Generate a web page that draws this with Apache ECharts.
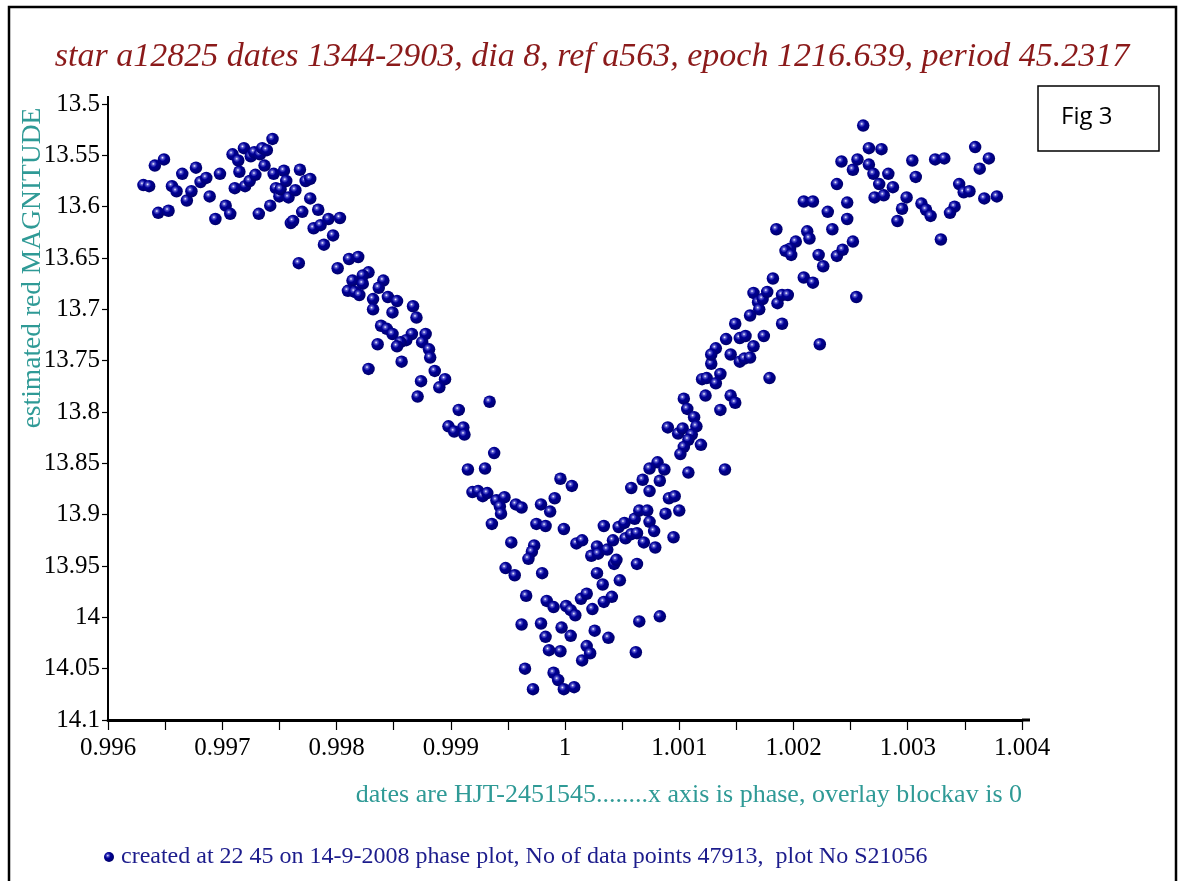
<!DOCTYPE html>
<html>
<head>
<meta charset="utf-8">
<script src="https://cdn.jsdelivr.net/npm/echarts@6/dist/echarts.min.js"></script>
<style>
  html, body { margin: 0; padding: 0; background: #fff; }
  #chart { width: 1184px; height: 881px; }
</style>
</head>
<body>
<div id="chart"></div>
<script>
// phase / estimated red magnitude, grouped by part of the light curve
var plateauLeft = [
  [0.99631,13.579],[0.99636,13.580],[0.99641,13.560],[0.99649,13.554],[0.99644,13.606],[0.99653,13.604],
  [0.99656,13.580],[0.99660,13.585],[0.99665,13.568],[0.99669,13.594],[0.99673,13.585],[0.99677,13.562],
  [0.99681,13.576],[0.99686,13.572],[0.99689,13.590],[0.99694,13.612],[0.99698,13.568],[0.99703,13.599],
  [0.99707,13.607],[0.99709,13.549],[0.99711,13.582],[0.99714,13.555],[0.99715,13.566],[0.99719,13.543],
  [0.99720,13.580],[0.99724,13.575],[0.99725,13.551],[0.99728,13.547],[0.99729,13.569],[0.99732,13.607],
  [0.99733,13.549],[0.99735,13.543],[0.99737,13.560],[0.99739,13.545],[0.99742,13.599],[0.99744,13.534],
  [0.99745,13.568],[0.99747,13.582],[0.99750,13.590],[0.99751,13.583],[0.99754,13.565],[0.99756,13.575],
  [0.99758,13.591],[0.99760,13.616],[0.99762,13.614],[0.99764,13.584],[0.99768,13.564],[0.99770,13.605],
  [0.99773,13.575],[0.99777,13.573],[0.99777,13.592],[0.99780,13.621],[0.99784,13.603],[0.99786,13.618],
  [0.99789,13.637],[0.99793,13.612],[0.99797,13.628],[0.99767,13.655],[0.99801,13.660],[0.99803,13.611]
];
var descent = [
  [0.99811,13.651],[0.99819,13.649],[0.99828,13.664],[0.99823,13.667],[0.99814,13.672],[0.99841,13.672],
  [0.99823,13.675],[0.99837,13.679],[0.99810,13.682],[0.99816,13.683],[0.99820,13.686],[0.99845,13.688],
  [0.99832,13.690],[0.99853,13.692],[0.99867,13.697],[0.99832,13.700],[0.99849,13.703],[0.99870,13.708],
  [0.99839,13.716],[0.99844,13.719],[0.99849,13.724],[0.99878,13.724],[0.99866,13.724],[0.99861,13.730],
  [0.99875,13.732],[0.99856,13.732],[0.99836,13.734],[0.99853,13.736],[0.99881,13.739],[0.99882,13.747],
  [0.99857,13.751],[0.99828,13.758],[0.99886,13.760],[0.99895,13.768],[0.99874,13.770],[0.99890,13.776],
  [0.99871,13.785],[0.99934,13.790],[0.99907,13.798],[0.99898,13.814],[0.99903,13.819],[0.99911,13.815],
  [0.99912,13.822],[0.99938,13.840],[0.99930,13.855],[0.99915,13.856]
];
var minimum = [
  [0.99996,13.865],[1.00006,13.872],[1.00058,13.874],[0.99919,13.878],[0.99924,13.877],[0.99928,13.882],
  [0.99932,13.879],[0.99940,13.886],[0.99947,13.883],[0.99943,13.892],[0.99944,13.899],[0.99957,13.890],
  [0.99962,13.893],[0.99979,13.890],[0.99991,13.884],[0.99987,13.897],[0.99936,13.909],[0.99975,13.909],
  [0.99983,13.911],[0.99999,13.914],[1.00034,13.911],[0.99953,13.927],[1.00010,13.928],[1.00015,13.925],
  [0.99973,13.930],[0.99971,13.936],[0.99968,13.943],[1.00028,13.931],[1.00023,13.940],[1.00029,13.938],
  [1.00037,13.934],[1.00042,13.925],[1.00047,13.912],[1.00052,13.908],[1.00053,13.923],[1.00058,13.919],
  [1.00063,13.918],[1.00061,13.904],[1.00065,13.896],[1.00043,13.948],[1.00045,13.944],[1.00063,13.948],
  [0.99948,13.952],[0.99956,13.959],[0.99980,13.957],[1.00028,13.957],[1.00033,13.968],[1.00048,13.964],
  [0.99966,13.979],[0.99984,13.984],[0.99990,13.990],[1.00001,13.989],[1.00005,13.993],[1.00009,13.998],
  [1.00014,13.982],[1.00019,13.977],[1.00024,13.992],[1.00034,13.985],[1.00041,13.980],[0.99962,14.007],
  [0.99979,14.006],[0.99997,14.010],[1.00005,14.018],[0.99983,14.019],[1.00026,14.013],[1.00038,14.020],
  [1.00065,14.004],[0.99986,14.032],[0.99996,14.033],[1.00019,14.028],[1.00022,14.035],[1.00015,14.042],
  [1.00062,14.034],[0.99965,14.050],[0.99990,14.054],[0.99994,14.061],[0.99972,14.070],[0.99999,14.070],
  [1.00008,14.068]
];
var ascent = [
  [1.00128,13.753],[1.00120,13.768],[1.00124,13.767],[1.00136,13.763],[1.00132,13.772],[1.00179,13.767],
  [1.00104,13.787],[1.00123,13.784],[1.00145,13.784],[1.00149,13.791],[1.00107,13.797],[1.00136,13.798],
  [1.00113,13.805],[1.00090,13.815],[1.00115,13.814],[1.00099,13.821],[1.00103,13.816],[1.00111,13.822],
  [1.00108,13.827],[1.00104,13.834],[1.00119,13.832],[1.00101,13.841],[1.00081,13.849],[1.00074,13.855],
  [1.00087,13.856],[1.00108,13.859],[1.00140,13.856],[1.00068,13.866],[1.00083,13.867],[1.00074,13.877],
  [1.00091,13.884],[1.00096,13.882],[1.00072,13.896],[1.00088,13.899],[1.00100,13.896],[1.00074,13.907],
  [1.00078,13.916],[1.00069,13.927],[1.00079,13.932],[1.00095,13.922],[1.00083,13.999],
  [1.00185,13.622],[1.00212,13.624],[1.00214,13.631],[1.00202,13.634],[1.00197,13.641],[1.00193,13.643],
  [1.00198,13.647],[1.00222,13.647],[1.00226,13.658],[1.00238,13.648],[1.00243,13.642],[1.00252,13.634],
  [1.00182,13.670],[1.00209,13.669],[1.00217,13.674],[1.00255,13.688],[1.00165,13.684],[1.00169,13.693],
  [1.00173,13.690],[1.00177,13.683],[1.00170,13.700],[1.00186,13.694],[1.00190,13.686],[1.00195,13.686],
  [1.00162,13.706],[1.00149,13.714],[1.00190,13.714],[1.00141,13.729],[1.00153,13.728],[1.00158,13.726],
  [1.00174,13.726],[1.00165,13.736],[1.00132,13.738],[1.00128,13.744],[1.00145,13.744],[1.00153,13.751],
  [1.00157,13.748],[1.00162,13.747],[1.00223,13.734]
];
var plateauRight = [
  [1.00261,13.521],[1.00266,13.543],[1.00277,13.544],[1.00242,13.556],[1.00256,13.554],[1.00252,13.564],
  [1.00266,13.559],[1.00270,13.568],[1.00283,13.568],[1.00304,13.555],[1.00324,13.554],[1.00332,13.553],
  [1.00359,13.542],[1.00371,13.553],[1.00363,13.563],[1.00238,13.578],[1.00275,13.578],[1.00287,13.581],
  [1.00307,13.571],[1.00345,13.578],[1.00349,13.586],[1.00354,13.585],[1.00271,13.591],[1.00279,13.589],
  [1.00299,13.591],[1.00367,13.592],[1.00378,13.590],[1.00209,13.595],[1.00217,13.595],[1.00247,13.596],
  [1.00312,13.597],[1.00316,13.603],[1.00320,13.609],[1.00295,13.602],[1.00341,13.600],[1.00337,13.606],
  [1.00230,13.605],[1.00247,13.612],[1.00291,13.614],[1.00234,13.622],[1.00329,13.632]
];
var magTicks = [13.5, 14.1, 0.05];
var phaseTicks = [0.996, 1.004, 0.001];

var titleText = 'star a12825 dates 1344-2903, dia 8, ref a563, epoch 1216.639, period 45.2317';
var yName = 'estimated red MAGNITUDE';
var xName = 'dates are HJT-2451545........x axis is phase, overlay blockav is 0';
var footText = 'created at 22 45 on 14-9-2008 phase plot, No of data points 47913,  plot No S21056';

var allPoints = plateauLeft.concat(descent, minimum, ascent, plateauRight);

var ball = {
  type: 'radial', x: 0.38, y: 0.36, r: 0.62,
  colorStops: [
    { offset: 0, color: '#ffffff' },
    { offset: 0.18, color: '#5a5ad0' },
    { offset: 0.45, color: '#000096' },
    { offset: 1, color: '#00006c' }
  ]
};
var serif = '"Liberation Serif", "DejaVu Serif", serif';

var chart = echarts.init(document.getElementById('chart'));
chart.setOption({
  backgroundColor: '#fff',
  animation: false,
  title: {
    text: titleText,
    left: 'center',
    top: 35,
    textStyle: { fontFamily: serif, fontStyle: 'italic', fontWeight: 'normal', fontSize: 34, color: '#8b1a1a' }
  },
  grid: { left: 108, top: 104, width: 914, height: 616 },
  xAxis: {
    type: 'value',
    min: phaseTicks[0], max: phaseTicks[1], interval: phaseTicks[2],
    splitLine: { show: false },
    axisLine: { onZero: false, lineStyle: { color: '#000', width: 3 } },
    axisTick: { length: 10, lineStyle: { color: '#000', width: 1.2 } },
    minorTick: { show: true, splitNumber: 2, length: 10, lineStyle: { color: '#000', width: 1.2 } },
    axisLabel: {
      margin: 16, color: '#000', fontFamily: serif, fontSize: 25,
      formatter: function (v) { return String(+v.toFixed(3)); }
    }
  },
  yAxis: {
    type: 'value',
    inverse: true,
    min: magTicks[0], max: magTicks[1], interval: magTicks[2],
    splitLine: { show: false },
    axisLine: { onZero: false, lineStyle: { color: '#000', width: 2 } },
    axisTick: { length: 6, lineStyle: { color: '#000', width: 1.2 } },
    axisLabel: {
      margin: 8, color: '#000', fontFamily: serif, fontSize: 25,
      formatter: function (v) { return String(+v.toFixed(2)); }
    }
  },
  series: [{
    type: 'scatter',
    data: allPoints,
    symbol: 'circle',
    symbolSize: 12.5,
    itemStyle: { color: ball, opacity: 1 }
  }],
  graphic: [
    { type: 'polyline', shape: { points: [[9, 881], [9, 7], [1176, 7], [1176, 881]] },
      style: { stroke: '#000', lineWidth: 2.5, fill: null } },
    { type: 'line', shape: { x1: 108, y1: 96, x2: 108, y2: 104 }, style: { stroke: '#000', lineWidth: 2 } },
    { type: 'line', shape: { x1: 1022, y1: 720, x2: 1030, y2: 720 }, style: { stroke: '#000', lineWidth: 3 } },
    { type: 'rect', shape: { x: 1038, y: 86, width: 121, height: 65 },
      style: { stroke: '#000', lineWidth: 1.5, fill: '#fff' } },
    { type: 'text', x: 1061, y: 117,
      style: { text: 'Fig 3', font: '24px "Open Sans", sans-serif', fill: '#000', verticalAlign: 'middle' } },
    { type: 'text', x: 33, y: 268, rotation: Math.PI / 2,
      style: { text: yName, font: '27.5px ' + serif, fill: '#2f9a96', align: 'center', verticalAlign: 'middle' } },
    { type: 'text', x: 1022, y: 795,
      style: { text: xName, font: '26px ' + serif, fill: '#2f9a96', align: 'right', verticalAlign: 'middle' } },
    { type: 'circle', shape: { cx: 109, cy: 857, r: 5 }, style: { fill: ball } },
    { type: 'text', x: 121, y: 857,
      style: { text: footText, font: '24px ' + serif, fill: '#1c1c8c', verticalAlign: 'middle' } }
  ]
});
</script>
</body>
</html>
